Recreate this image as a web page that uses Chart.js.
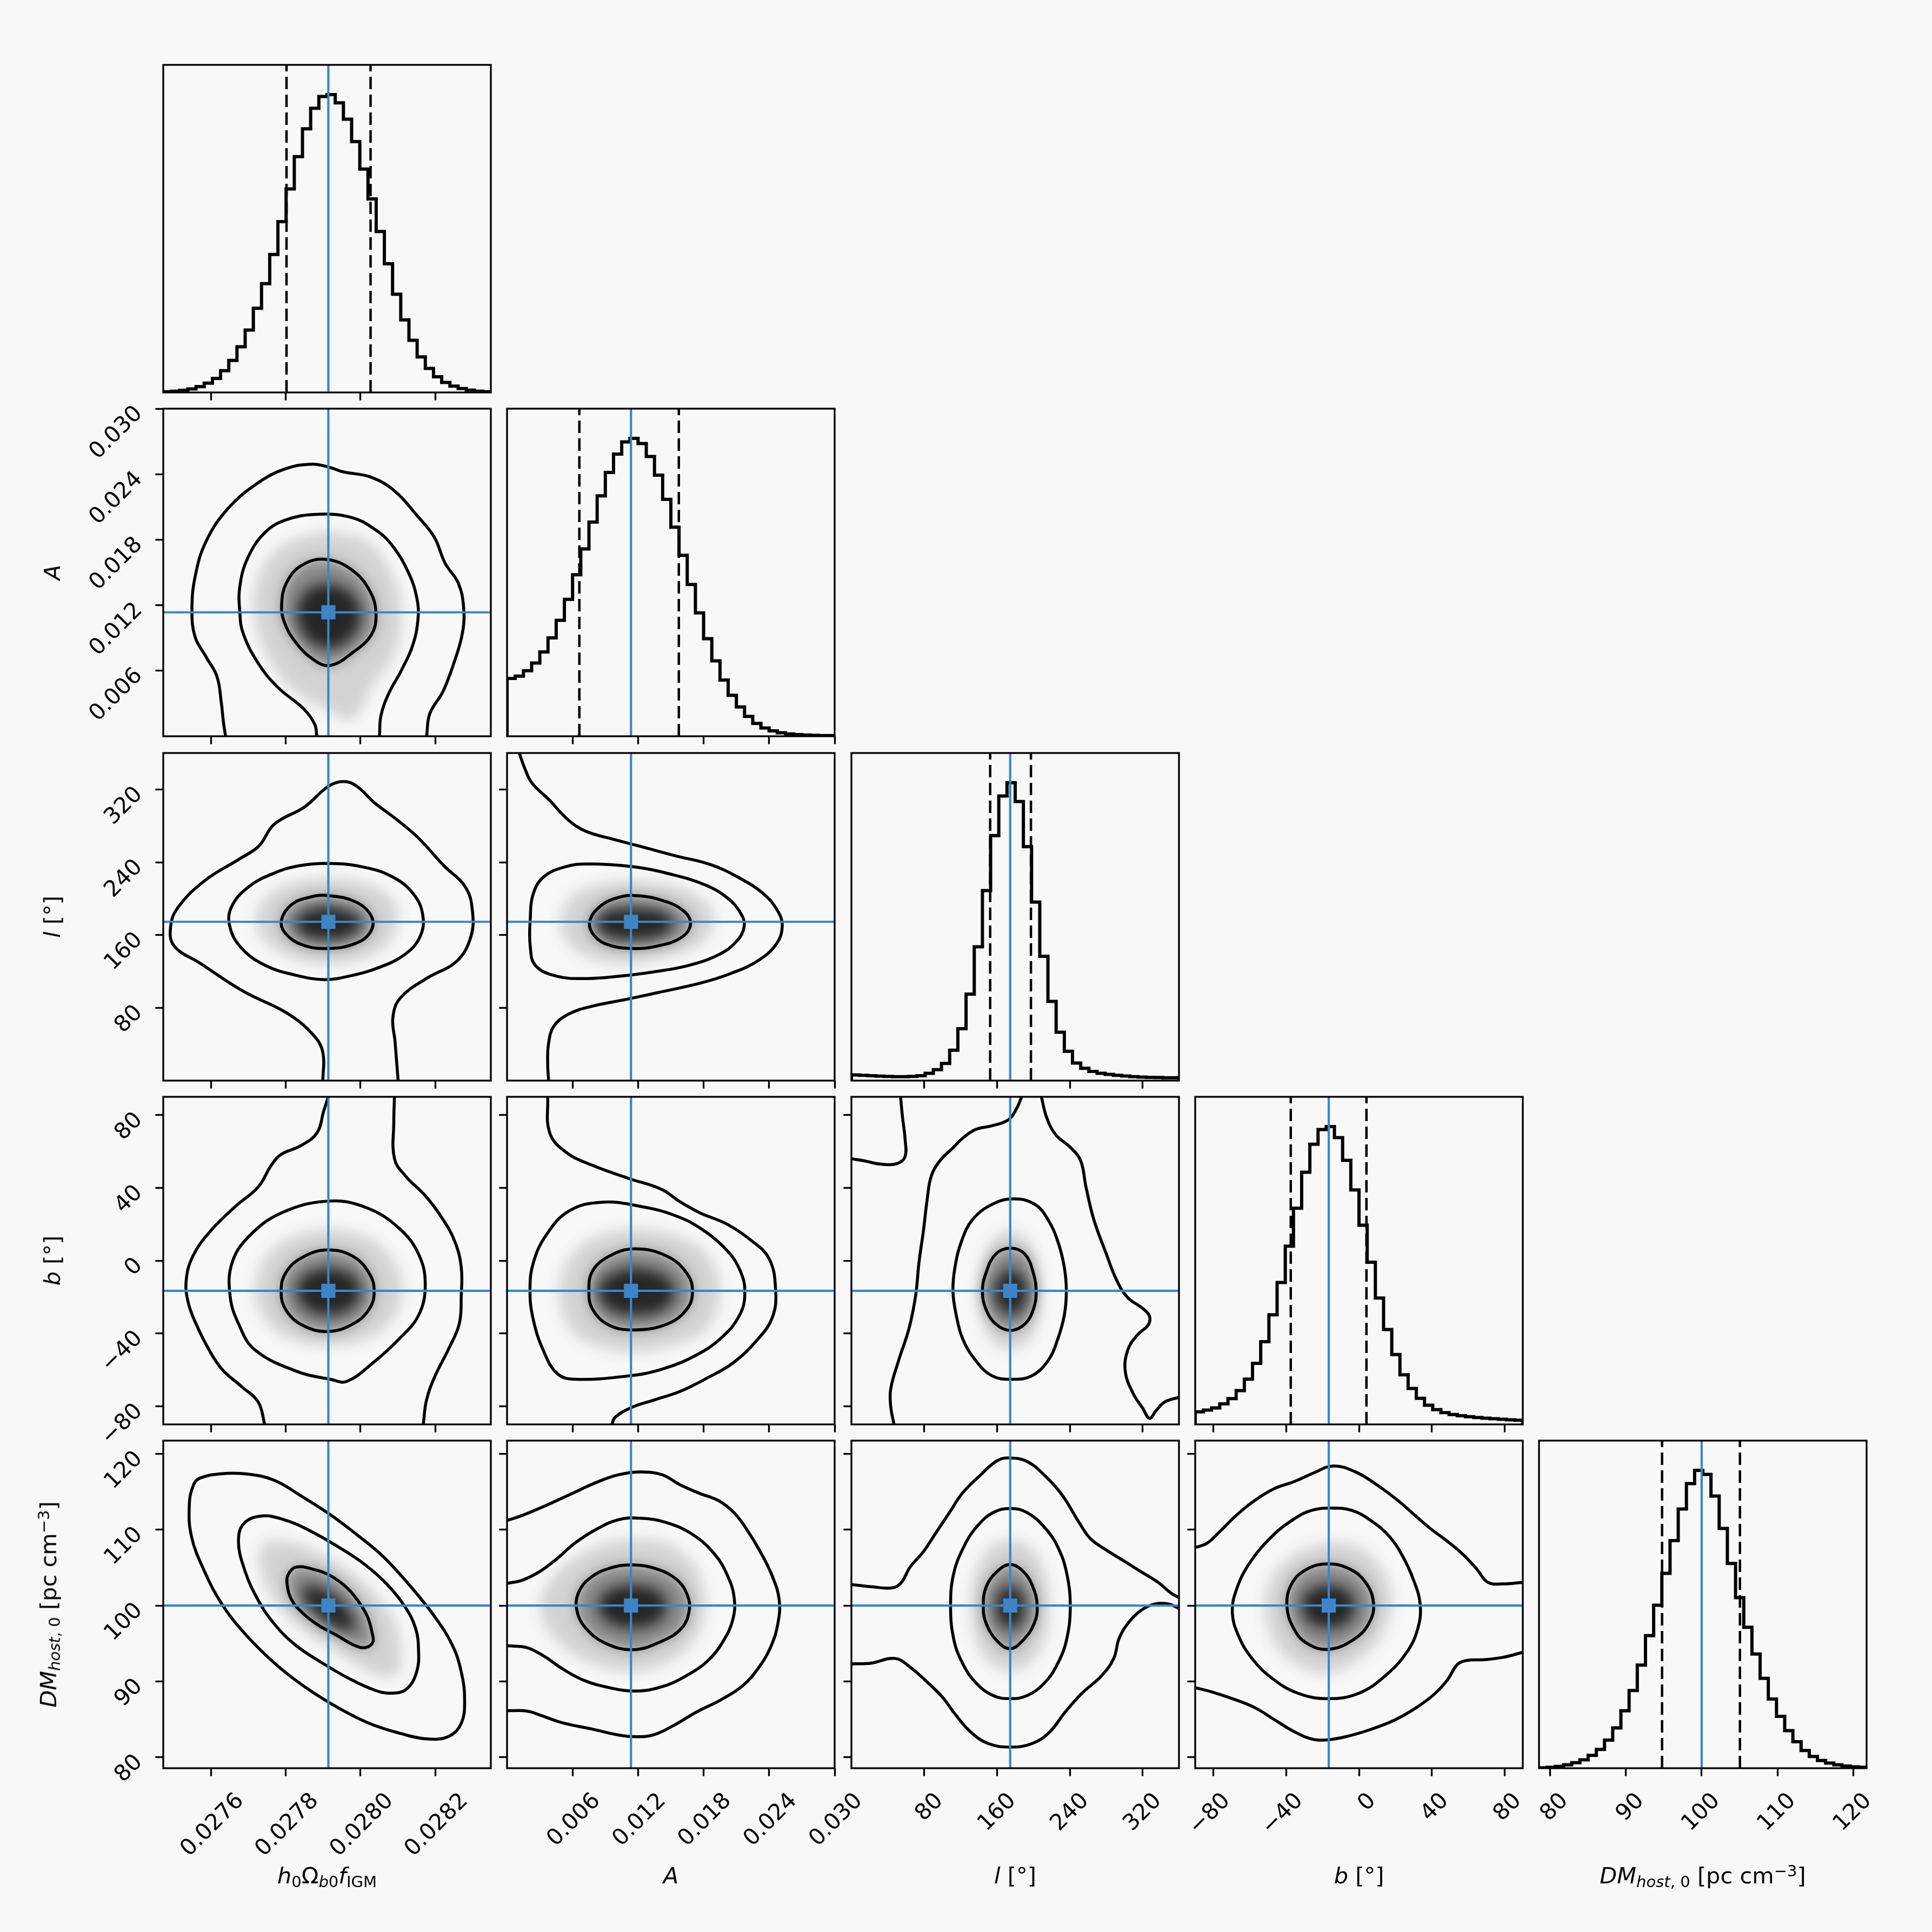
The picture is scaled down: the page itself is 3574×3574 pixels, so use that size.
<!DOCTYPE html>
<html><head><meta charset="utf-8">
<script src="https://cdn.jsdelivr.net/npm/chart.js@4.4.1/dist/chart.umd.min.js"></script>
<style>
html,body{margin:0;padding:0;background:#f8f8f8;}
#fig{position:relative;width:3574px;height:3574px;overflow:hidden;background:#f8f8f8;}
canvas{position:absolute;}
.lbl{position:absolute;left:0;top:0;transform-origin:0 0;font-family:"DejaVu Sans";font-size:41.5px;line-height:1;color:#000;white-space:nowrap;}
.lbl i{font-style:oblique;}
.lbl sub{font-size:70%;vertical-align:baseline;position:relative;top:0.24em;}
.lbl sup{font-size:70%;vertical-align:baseline;position:relative;top:-0.45em;}
</style></head><body><div id="fig"></div>
<script>
// ---------------- data ----------------
const paramNames = ['h0Ωb0fIGM', 'A', 'l', 'b', 'DMhost,0'];
const axisTitles = [
  '<i>h</i><sub>0</sub>Ω<sub><i>b</i>0</sub><i>f</i><sub>IGM</sub>',
  '<i>A</i>',
  '<i>l</i> [°]',
  '<i>b</i> [°]',
  '<i>DM</i><sub><i>host</i>, 0</sub> [pc cm<sup>−3</sup>]'
];
const rangeLo = [0.027472, 0.0, 0.0, -90.0, 78.55];
const rangeHi = [0.028349, 0.03, 360.0, 90.0, 121.75];
const tickVals = [[0.0276, 0.0278, 0.0280, 0.0282], [0.006, 0.012, 0.018, 0.024, 0.030], [80, 160, 240, 320], [-80, -40, 0, 40, 80], [80, 90, 100, 110, 120]];
const tickLabels = [["0.0276", "0.0278", "0.0280", "0.0282"], ["0.006", "0.012", "0.018", "0.024", "0.030"], ["80", "160", "240", "320"], ["−80", "−40", "0", "40", "80"], ["80", "90", "100", "110", "120"]];
const truths = [0.027914, 0.01135, 174.5, -16.6, 100.0];
const q16 = [0.027802, 0.00662, 152.5, -37.5, 94.78];
const q84 = [0.028027, 0.01573, 197.3, 4.1, 105.05];

// 1D histograms (40 bins over the axis range)
const histH = [3,5,9,15,25,40,60,93,137,195,267,360,465,590,730,870,1008,1127,1215,1265,1273,1238,1168,1072,955,827,688,550,420,310,223,152,103,67,43,27,17,10,5,3];
const histA = [247,257,280,313,360,420,495,585,690,800,915,1027,1127,1205,1257,1272,1250,1195,1115,1012,893,773,648,527,417,322,240,175,125,85,55,35,23,15,10,7,5,4,3,3];
const histL = [26,24,22,20,19,18,18,19,22,33,50,78,138,236,393,608,863,1113,1293,1353,1268,1063,811,565,360,220,133,80,56,42,33,28,24,21,18,16,15,14,13,13];
const histB = [57,65,75,93,117,153,205,277,375,497,643,808,980,1143,1270,1337,1350,1300,1197,1063,903,735,573,430,317,225,163,118,87,67,53,45,39,35,31,28,26,23,21,19];
const histDM = [2,4,8,15,25,38,58,85,127,182,260,352,467,600,738,882,1030,1173,1288,1348,1330,1232,1085,927,772,638,517,407,313,235,170,120,80,53,35,23,15,10,6,4];

// 2D panels: density shading outlines and contour lines [x, y]
// A vs h0Ωb0fIGM
const A_h_shade = [[0.0279008,0.018837],[0.0280171,0.017841],[0.0280869,0.014652],[0.0281102,0.011463],[0.0280927,0.007674],[0.0280346,0.004683],[0.0279764,0.001494],[0.0279182,0.002292],[0.0278251,0.004086],[0.0277611,0.006678],[0.0277175,0.010665],[0.0277262,0.014652],[0.0277902,0.017442]];
const A_h_core = [[0.0279124,0.014052],[0.0279764,0.013056],[0.0279997,0.010863],[0.0279647,0.00867],[0.0279124,0.008073],[0.0278542,0.009069],[0.0278309,0.011262],[0.0278542,0.013257]];
const A_h_c1 = [[0.0279066,0.016206],[0.0279764,0.015249],[0.0280258,0.013257],[0.0280415,0.011163],[0.0280287,0.00927],[0.0279793,0.007674],[0.0279182,0.006477],[0.0278717,0.007077],[0.0278251,0.00867],[0.027796,0.010464],[0.027789,0.01206],[0.0278018,0.014052],[0.0278426,0.015648]];
const A_h_c2 = [[0.0278833,0],[0.0278775,0.001095],[0.0278484,0.002493],[0.0277786,0.004485],[0.0277262,0.006678],[0.0276855,0.009468],[0.0276768,0.011463],[0.0276768,0.013653],[0.0276971,0.016245],[0.0277437,0.018639],[0.0278018,0.019833],[0.0278891,0.020331],[0.0279764,0.020034],[0.0280346,0.019038],[0.0280811,0.01764],[0.0281276,0.015051],[0.0281509,0.012657],[0.0281538,0.010665],[0.0281393,0.008271],[0.0281102,0.006081],[0.0280753,0.003888],[0.0280549,0.001893],[0.0280509,0]];
const A_h_c3 = [[0.0276389,0],[0.0276331,0.001296],[0.0276274,0.00309],[0.0276157,0.005481],[0.0275866,0.007275],[0.0275575,0.009069],[0.0275488,0.011463],[0.0275575,0.014652],[0.0275866,0.017841],[0.0276448,0.020832],[0.0277262,0.023223],[0.0278018,0.024519],[0.0278717,0.024918],[0.0279182,0.024618],[0.0279531,0.024219],[0.0280287,0.023721],[0.0280927,0.022425],[0.0281509,0.020232],[0.0281975,0.01824],[0.0282266,0.015846],[0.0282615,0.014052],[0.028276,0.011859],[0.028273,0.009468],[0.0282498,0.006678],[0.0282207,0.004086],[0.0281858,0.002094],[0.028177,0]];
// l vs h0Ωb0fIGM
const l_h_shade = [[0.0279144,223.2],[0.0280134,217.2],[0.0280832,200.5],[0.0281007,176.7],[0.0280774,152.8],[0.0280134,134.9],[0.0279144,127.7],[0.0278155,134.9],[0.0277456,152.8],[0.02772,176.7],[0.0277456,200.5],[0.0278155,217.2]];
const l_h_core = [[0.0279144,191.0],[0.0279785,183.8],[0.0280017,171.9],[0.0279726,160.0],[0.0279144,155.2],[0.0278504,160.0],[0.0278271,171.9],[0.0278504,185.0]];
const l_h_c1 = [[0.0279121,203.4],[0.0279901,195.8],[0.0280309,179.0],[0.028025,162.3],[0.0279843,150.4],[0.0279144,145.2],[0.0278446,149.2],[0.027798,162.3],[0.0277887,176.7],[0.0278155,193.4],[0.027862,201.3]];
const l_h_c2 = [[0.0279144,238.7],[0.0280017,235.2],[0.0280832,224.4],[0.0281414,205.3],[0.028167,181.4],[0.0281589,157.6],[0.0281182,138.5],[0.0280483,124.1],[0.0279668,114.6],[0.0279028,111.0],[0.0278271,115.8],[0.0277456,126.5],[0.0276815,145.6],[0.0276501,169.5],[0.0276548,191.0],[0.0276991,212.5],[0.0277688,228.0],[0.0278387,236.3]];
const l_h_c3 = [[0.0278993,0],[0.0278993,31.0],[0.0278737,50.1],[0.0278038,74.0],[0.0276874,97.9],[0.027571,128.9],[0.0275011,148.0],[0.0274918,169.5],[0.0275128,191.0],[0.0275826,219.6],[0.0276757,243.5],[0.0277282,257.8],[0.0277688,281.7],[0.0278504,300.8],[0.0279144,323.5],[0.0279551,328.7],[0.0279901,323.5],[0.0280367,305.6],[0.0280949,287.6],[0.0281531,267.4],[0.028223,236.3],[0.0282812,212.5],[0.0282998,186.2],[0.0282951,157.6],[0.0282579,131.3],[0.0281764,112.2],[0.0281066,90.7],[0.0280867,69.2],[0.0280925,43.0],[0.0281007,0]];
// l vs A
const l_A_shade = [[0.0116,219.6],[0.0154,213.7],[0.018,198.1],[0.01892,176.7],[0.0182,155.2],[0.0154,138.5],[0.0114,128.9],[0.0078,133.7],[0.0056,150.4],[0.00492,176.7],[0.0058,200.5],[0.0082,214.8]];
const l_A_core = [[0.0114,189.8],[0.0142,185.0],[0.0152,173.1],[0.0142,160.0],[0.0114,155.2],[0.009,160.0],[0.0082,173.1],[0.009,185.0]];
const l_A_c1 = [[0.01152,203.4],[0.0142,198.1],[0.0162,186.2],[0.0168,171.9],[0.016,157.6],[0.0138,148.0],[0.0114,145.2],[0.009,150.4],[0.0078,162.3],[0.0076,176.7],[0.0086,192.2],[0.01,200.5]];
const l_A_c2 = [[0.0074,238.0],[0.0114,235.2],[0.015,226.8],[0.0182,214.8],[0.0202,200.5],[0.0214,183.8],[0.02172,169.5],[0.021,152.8],[0.0194,138.5],[0.0166,126.5],[0.0134,119.4],[0.0102,114.6],[0.0074,112.2],[0.0046,114.6],[0.0026,126.5],[0.00212,148.0],[0.00212,176.7],[0.0024,205.3],[0.0034,224.4],[0.0054,235.2]];
const l_A_c3 = [[0.00112,360],[0.0016,343.8],[0.00228,327.1],[0.0038,309.2],[0.0056,286.5],[0.0072,274.1],[0.0098,265.0],[0.0122,257.4],[0.0154,247.1],[0.0186,237.5],[0.0212,223.2],[0.02348,205.3],[0.0248,186.2],[0.0252,169.5],[0.02468,150.4],[0.02308,132.5],[0.0206,118.2],[0.0178,107.4],[0.0138,96.7],[0.011,89.5],[0.0076,81.2],[0.0056,72.8],[0.00428,59.7],[0.0038,40.6],[0.00372,19.1],[0.0038,0]];
// b vs h0Ωb0fIGM
const b_h_shade = [[0.0279139,17.78],[0.0280156,13.01],[0.0280857,1.08],[0.028112,-16.83],[0.0280857,-32.35],[0.0280156,-43.09],[0.0279139,-46.67],[0.0278139,-43.09],[0.0277438,-32.35],[0.0277175,-16.83],[0.0277438,1.08],[0.0278139,13.01]];
const b_h_core = [[0.0279139,-3.71],[0.0279805,-8.48],[0.027998,-16.83],[0.0279805,-25.18],[0.0279139,-29.95],[0.027849,-25.18],[0.0278314,-16.83],[0.027849,-8.48]];
const b_h_c1 = [[0.0279139,5.85],[0.0279805,2.27],[0.0280243,-7.29],[0.0280366,-16.83],[0.0280243,-26.37],[0.0279805,-34.74],[0.0279139,-38.92],[0.027849,-35.93],[0.0278016,-27.58],[0.0277876,-16.83],[0.0278016,-6.08],[0.027849,2.27]];
const b_h_c2 = [[0.0279139,32.71],[0.0280156,29.12],[0.0281032,17.78],[0.0281558,3.46],[0.0281734,-13.25],[0.0281558,-29.95],[0.0281032,-43.09],[0.0280331,-56.21],[0.027963,-66.37],[0.0279191,-65.18],[0.0278314,-61.0],[0.0277175,-49.05],[0.0276736,-34.74],[0.0276508,-19.22],[0.0276561,-1.31],[0.0276999,13.01],[0.0277876,26.14]];
const b_h_c3a = [[0.0279139,90],[0.0279016,82.24],[0.027884,70.31],[0.0278402,63.14],[0.0277876,58.37],[0.0277613,52.4],[0.0277262,40.46],[0.0276649,29.72],[0.0275947,15.39],[0.0275509,2.27],[0.0275334,-10.85],[0.0275386,-22.81],[0.0275597,-34.74],[0.0275947,-49.05],[0.0276298,-59.8],[0.0276824,-69.35],[0.0277262,-77.71],[0.0277438,-90]];
const b_h_c3b = [[0.028091,90],[0.0280892,76.27],[0.028091,55.98],[0.0281208,46.44],[0.0281734,35.69],[0.0282172,23.76],[0.0282523,10.62],[0.0282698,-3.71],[0.0282698,-19.22],[0.0282645,-34.74],[0.0282347,-49.05],[0.0281997,-63.38],[0.0281769,-76.52],[0.0281681,-90]];
// b vs A
const b_A_shade = [[0.01158,17.78],[0.0153,14.2],[0.0183,3.46],[0.0195,-16.83],[0.0183,-37.12],[0.0153,-46.67],[0.01158,-50.26],[0.0081,-46.67],[0.0057,-37.12],[0.0048,-16.83],[0.0057,1.08],[0.0081,13.01]];
const b_A_core = [[0.0117,-3.71],[0.0144,-8.48],[0.0153,-16.83],[0.0144,-26.37],[0.0117,-29.95],[0.0093,-26.37],[0.0084,-16.83],[0.0093,-8.48]];
const b_A_c1 = [[0.0117,6.44],[0.0147,2.27],[0.0165,-7.29],[0.01698,-16.83],[0.0165,-26.37],[0.0147,-34.74],[0.0117,-38.07],[0.0093,-35.33],[0.0078,-26.37],[0.0075,-16.83],[0.0078,-6.08],[0.0093,2.27]];
const b_A_c2 = [[0.0087,32.11],[0.0123,29.72],[0.0153,24.95],[0.0177,17.78],[0.0201,5.85],[0.0213,-4.9],[0.02178,-16.83],[0.0213,-29.95],[0.0195,-43.09],[0.0171,-52.63],[0.0141,-59.8],[0.0111,-63.38],[0.0063,-65.18],[0.00462,-62.19],[0.0033,-49.05],[0.0024,-32.35],[0.0021,-16.83],[0.0024,-1.31],[0.0036,14.2],[0.0057,27.33]];
const b_A_c3 = [[0.00372,90],[0.0039,70.31],[0.0054,59.56],[0.0078,52.4],[0.0111,45.23],[0.0141,39.28],[0.0159,32.11],[0.0177,26.14],[0.0201,20.18],[0.0222,11.81],[0.024,1.08],[0.0246,-16.83],[0.0243,-31.16],[0.02298,-43.09],[0.0207,-56.21],[0.0183,-64.58],[0.0159,-71.73],[0.0135,-76.52],[0.0114,-80.69],[0.0099,-86.06],[0.0096,-90]];
// b vs l
const b_l_shade = [[175.0,17.78],[194.4,10.62],[205.2,-1.31],[207.4,-16.83],[205.2,-32.35],[194.4,-44.28],[175.0,-49.05],[154.8,-44.28],[144.0,-32.35],[140.4,-16.83],[144.0,-1.31],[154.8,10.62]];
const b_l_core = [[175.0,-3.71],[188.6,-9.67],[193.0,-16.83],[188.6,-25.18],[175.0,-29.95],[162.0,-25.18],[157.0,-16.83],[162.0,-9.67]];
const b_l_c1 = [[175.0,6.8],[190.8,3.46],[200.2,-7.29],[203.0,-16.83],[200.2,-26.37],[190.8,-34.74],[175.0,-38.32],[158.4,-34.74],[147.6,-26.37],[144.0,-16.83],[147.6,-7.29],[158.4,3.46]];
const b_l_c2 = [[178.6,33.9],[201.6,30.92],[216.0,22.55],[226.8,10.62],[234.0,-3.71],[236.2,-16.83],[234.0,-29.95],[226.8,-43.09],[216.0,-55.03],[198.0,-63.38],[176.4,-65.18],[154.8,-63.38],[136.8,-55.03],[122.4,-43.09],[115.2,-29.95],[111.6,-16.83],[113.8,-3.71],[121.0,10.62],[133.2,22.55],[154.8,30.92]];
const b_l_c3a = [[0,55.98],[14.4,54.79],[32.4,53.0],[50.4,53.35],[59.0,57.17],[59.0,66.73],[56.2,78.66],[54.0,90]];
const b_l_c3b = [[187.2,90],[181.4,83.43],[172.8,77.47],[154.8,74.12],[136.8,72.09],[123.8,67.91],[111.6,61.94],[97.2,54.79],[87.8,46.44],[83.5,34.49],[79.2,16.6],[74.2,-1.31],[70.6,-19.22],[63.4,-37.12],[51.8,-55.03],[43.2,-70.54],[43.2,-80.1],[46.8,-90]];
const b_l_c3c = [[208.8,90],[214.6,78.66],[224.6,69.12],[241.2,61.94],[252.0,54.79],[257.8,40.46],[266.4,22.55],[279.4,4.66],[291.6,-10.85],[303.8,-20.41],[320.4,-26.39],[327.6,-30.56],[326.2,-35.33],[314.6,-40.7],[303.8,-49.05],[301.0,-61.0],[309.6,-72.94],[320.4,-81.29],[327.6,-86.66],[334.8,-82.48],[344.2,-77.71],[360,-75.08]];
// DM vs h0Ωb0fIGM
const DM_h_shade = [[0.0277456,108.65],[0.0278155,108.36],[0.0278969,106.79],[0.0279785,104.21],[0.0280483,101.05],[0.0280949,97.61],[0.0281066,94.17],[0.0281007,91.02],[0.0280483,90.73],[0.0279785,92.45],[0.0279086,94.75],[0.0278387,97.04],[0.0277805,99.91],[0.0277397,103.35],[0.0277282,106.5]];
const DM_h_core = [[0.0278562,102.77],[0.0279203,101.63],[0.0279668,99.33],[0.0279843,97.04],[0.0279551,96.75],[0.0279086,97.9],[0.0278678,99.62],[0.0278446,101.34]];
const DM_h_c1 = [[0.0278271,105.07],[0.0278737,104.78],[0.0279203,103.92],[0.0279668,102.2],[0.0279994,100.19],[0.0280192,98.47],[0.0280309,96.46],[0.0280332,95.18],[0.0280134,94.46],[0.0279843,94.75],[0.0279377,96.04],[0.0278853,97.47],[0.0278446,99.05],[0.0278155,100.77],[0.0278038,102.77],[0.0278061,104.06]];
const DM_h_c2 = [[0.027734,111.8],[0.0277922,111.37],[0.027862,109.94],[0.0279435,107.65],[0.0280134,105.35],[0.0280716,102.77],[0.0281182,99.91],[0.0281473,97.04],[0.0281554,94.17],[0.0281507,91.31],[0.028124,89.01],[0.0280832,88.44],[0.0280367,88.87],[0.0279668,90.45],[0.0278969,92.45],[0.0278271,94.75],[0.0277688,97.61],[0.0277223,101.05],[0.0276874,105.07],[0.0276734,108.5],[0.0276874,110.8]];
const DM_h_c3 = [[0.027571,116.82],[0.0276292,117.39],[0.0276991,117.33],[0.0277688,116.53],[0.0278387,114.53],[0.0279203,111.95],[0.0279901,109.36],[0.02806,106.5],[0.0281298,102.77],[0.0281997,98.47],[0.0282462,94.75],[0.0282695,91.31],[0.0282788,87.58],[0.0282695,84.43],[0.0282346,82.71],[0.0281764,82.42],[0.0281066,83.14],[0.028025,84.43],[0.0279435,86.43],[0.0278504,89.3],[0.0277688,92.45],[0.0276874,96.46],[0.0276292,100.19],[0.0275826,104.49],[0.0275477,109.08],[0.0275419,113.38],[0.0275535,115.96]];
// DM vs A
const DM_A_shade = [[0.01152,108.79],[0.0146,108.22],[0.017,105.64],[0.018,102.2],[0.018,98.18],[0.0166,94.46],[0.0138,91.88],[0.01152,91.31],[0.0086,91.88],[0.0058,93.89],[0.0036,97.04],[0.003,99.91],[0.0038,103.06],[0.0062,106.22],[0.009,108.22]];
const DM_A_core = [[0.01152,102.77],[0.0138,101.91],[0.0146,99.91],[0.0138,97.9],[0.01152,97.04],[0.0092,97.9],[0.0084,99.91],[0.0092,101.91]];
const DM_A_c1 = [[0.01152,105.35],[0.0138,104.78],[0.0156,103.35],[0.01652,101.34],[0.01668,99.33],[0.016,97.04],[0.0142,95.32],[0.01152,94.18],[0.009,95.04],[0.0072,97.04],[0.0064,99.33],[0.00652,101.63],[0.0076,103.63],[0.0094,104.92]];
const DM_A_c2 = [[0,102.92],[0.0014,103.35],[0.003,104.49],[0.0046,106.21],[0.0062,108.22],[0.0082,110.08],[0.0102,111.32],[0.0122,111.52],[0.0146,110.94],[0.017,109.36],[0.019,106.79],[0.0202,103.92],[0.0208,101.05],[0.02068,98.18],[0.0198,95.32],[0.0184,92.74],[0.0164,90.73],[0.0142,89.3],[0.0118,88.73],[0.0094,89.16],[0.007,90.16],[0.005,91.73],[0.0034,93.31],[0.0018,94.46],[0,94.69]];
const DM_A_c3 = [[0,111.23],[0.0014,111.89],[0.0034,113.09],[0.0058,114.67],[0.0082,116.25],[0.0102,117.25],[0.0122,117.62],[0.0142,117.25],[0.0158,115.96],[0.0176,114.81],[0.0194,113.81],[0.0208,112.23],[0.022,109.94],[0.0232,107.07],[0.02428,103.92],[0.02492,100.77],[0.0248,97.61],[0.02412,94.46],[0.023,91.73],[0.0216,89.45],[0.0196,87.58],[0.0174,86.0],[0.0152,84.14],[0.0134,82.94],[0.0118,82.71],[0.0102,82.94],[0.0078,83.71],[0.005,84.57],[0.003,85.57],[0.0018,86.09],[0.0002,86.14],[0,86.12]];
// DM vs l
const DM_l_shade = [[174.5,108.79],[193.6,107.93],[210.3,105.07],[217.5,99.91],[210.3,94.75],[193.6,92.17],[174.5,91.31],[155.4,92.17],[138.6,94.75],[131.5,99.91],[138.6,105.07],[155.4,107.93]];
const DM_l_core = [[174.5,102.77],[186.5,101.63],[189.8,99.91],[186.5,97.9],[174.5,97.04],[162.5,97.9],[159.2,99.91],[162.5,101.63]];
const DM_l_c1 = [[174.5,105.41],[188.9,104.49],[199.4,102.49],[204.2,99.91],[200.8,97.61],[188.9,95.46],[174.5,94.32],[160.2,95.32],[148.2,97.61],[144.9,99.91],[148.2,102.49],[160.2,104.49]];
const DM_l_c2 = [[174.5,112.81],[193.6,112.23],[212.8,110.23],[227.1,107.65],[236.7,104.21],[240.5,99.91],[236.7,95.61],[227.1,92.45],[212.8,89.87],[193.6,88.15],[174.5,87.72],[155.4,88.15],[136.3,89.87],[121.9,92.45],[112.4,95.61],[109.0,99.91],[112.4,104.21],[124.3,107.93],[138.6,110.51],[155.4,112.23]];
const DM_l_c3a = [[0,102.77],[21.5,102.49],[45.4,102.34],[55.0,103.06],[64.5,105.07],[78.9,107.07],[93.2,109.65],[107.6,112.23],[121.9,114.81],[141.0,117.11],[160.2,119.11],[174.5,119.46],[193.6,118.97],[212.8,117.11],[231.9,114.53],[251.0,110.8],[262.9,108.79],[279.7,107.36],[298.8,105.93],[317.9,104.49],[337.1,103.06],[351.4,101.63],[360,101.05]];
const DM_l_c3b = [[0,92.31],[21.5,92.4],[47.8,93.03],[64.5,91.88],[83.7,89.87],[100.4,87.87],[114.7,85.57],[131.5,83.28],[150.6,81.79],[174.5,81.33],[198.4,81.79],[217.5,83.28],[234.3,85.86],[253.4,88.44],[274.9,90.73],[288.3,93.03],[294.0,95.61],[303.6,97.61],[317.9,99.33],[333.2,100.19],[349.0,100.19],[360,99.62]];
// DM vs b
const DM_b_shade = [[-16.8,108.5],[0,107.65],[12.0,105.07],[18.0,101.05],[14.4,97.04],[2.4,93.31],[-16.8,91.02],[-33.6,92.17],[-45.6,94.75],[-51.6,99.05],[-49.2,103.06],[-37.2,106.5]];
const DM_b_core = [[-16.8,102.77],[-6.0,101.91],[-2.4,99.91],[-6.0,97.9],[-16.8,97.04],[-27.6,97.9],[-31.2,99.91],[-27.6,101.91]];
const DM_b_c1 = [[-16.8,105.5],[-4.8,104.78],[3.6,103.06],[7.9,100.48],[6.0,97.9],[-2.4,95.61],[-16.8,94.23],[-28.8,95.04],[-36.0,97.04],[-39.6,99.91],[-37.2,102.77],[-28.8,104.78]];
const DM_b_c2 = [[-15.6,112.86],[-3.6,112.52],[7.2,111.09],[16.8,109.08],[24.0,106.5],[30.0,103.35],[33.6,100.19],[32.4,97.04],[26.4,93.89],[14.4,90.73],[0,88.44],[-16.8,87.72],[-33.6,88.44],[-48.0,90.45],[-58.8,93.03],[-66.0,95.9],[-69.6,99.05],[-67.2,102.2],[-60.0,105.64],[-48.0,109.08],[-36.0,111.37],[-26.4,112.52]];
const DM_b_c3a = [[-90,107.65],[-83.5,108.22],[-76.3,109.8],[-67.2,111.95],[-57.6,113.81],[-46.8,115.39],[-36.0,116.31],[-25.2,117.45],[-14.4,118.4],[-2.4,117.68],[9.6,115.96],[21.6,113.81],[31.2,111.8],[39.6,110.08],[49.2,108.36],[57.6,106.64],[64.8,104.78],[70.8,103.06],[79.2,102.86],[90,103.06]];
const DM_b_c3b = [[-90,89.16],[-81.6,88.67],[-69.6,87.72],[-57.6,86.58],[-46.8,85.0],[-36.0,83.42],[-26.4,82.42],[-18.0,82.28],[-7.2,82.71],[6.0,83.63],[19.2,84.86],[31.2,86.49],[41.3,88.3],[48.5,90.16],[54.0,92.22],[58.8,92.74],[69.6,92.88],[79.2,93.17],[90,93.83]];

// ---------------- layout / style ----------------
const PANEL = 606;
const colLeft = [302, 938, 1575, 2211, 2847];
const rowTop = [120, 756, 1393, 2029, 2665];
const ML = 240, MR = 80, MT = 60, MB = 240;
const FS = 41.5;
const FONT = 'DejaVu Sans';
const BLUE = '#3d85c6';
const TL = 14.6, TW = 3.3, FRAME_W = 3.3;
const XPAD = 22, YPAD = 30;
const LW_HIST = 6, LW_CONT = 5.5, LW_TRUTH = 4.2, LW_Q = 4.5;
const BLUR = 12;
const SHADE_COLORS = ['#d3d3d3', '#888888', '#262626'];

Chart.defaults.font.family = FONT;
Chart.defaults.elements.point.radius = 0;

const fig = document.getElementById('fig');
const mctx = document.createElement('canvas').getContext('2d');
mctx.font = FS + 'px "' + FONT + '"';
const tw = s => mctx.measureText(s).width;
const P = a => a.map(p => ({x: p[0], y: p[1]}));
// horizontal shift that centres each axis' rotated labels under their ticks
const xLabelShift = tickLabels.map(labs => 0.354 * labs.reduce((s, t) => s + tw(t), 0) / labs.length + 3);

const panelPlugin = {
  id: 'panelFrame',
  beforeDatasetsDraw(chart) { chart.ctx.filter = 'blur(' + BLUR + 'px)'; },
  beforeDatasetDraw(chart, args) {
    if (!chart.data.datasets[args.index].shade) chart.ctx.filter = 'none';
  },
  afterDatasetsDraw(chart) {
    const ctx = chart.ctx, a = chart.chartArea;
    ctx.filter = 'none';
    ctx.save();
    ctx.lineWidth = FRAME_W; ctx.strokeStyle = '#000';
    ctx.strokeRect(a.left, a.top, a.right - a.left, a.bottom - a.top);
    ctx.restore();
  }
};

function xScale(c, showLabels) {
  return {
    type: 'linear', min: rangeLo[c], max: rangeHi[c],
    afterBuildTicks: s => { s.ticks = tickVals[c].map(v => ({value: v})); },
    afterFit: s => { s.height = MB; },
    grid: {display: true, drawOnChartArea: false, drawTicks: true, tickLength: TL, tickWidth: TW, tickColor: '#000'},
    border: {display: false},
    ticks: {display: showLabels, autoSkip: false, minRotation: 45, maxRotation: 45, padding: XPAD, color: '#000',
      font: {family: FONT, size: FS},
      callback: (v, i) => tickLabels[c][i],
      labelOffset: xLabelShift[c]}
  };
}
function yScale(r, min, max, withTicks, showLabels) {
  return {
    type: 'linear', min: min, max: max,
    afterBuildTicks: s => { s.ticks = withTicks ? tickVals[r].map(v => ({value: v})) : []; },
    afterFit: s => { s.width = ML; },
    grid: {display: withTicks, drawOnChartArea: false, drawTicks: true, tickLength: TL, tickWidth: TW, tickColor: '#000'},
    border: {display: false},
    ticks: {display: showLabels, autoSkip: false, minRotation: 45, maxRotation: 45, padding: YPAD, color: '#000',
      font: {family: FONT, size: FS},
      labelOffset: 3,
      callback: (v, i) => tickLabels[r][i]}
  };
}

function makeChart(r, c, datasets, yOpts) {
  const cv = document.createElement('canvas');
  const W = ML + PANEL + MR, H = MT + PANEL + MB;
  cv.width = W; cv.height = H;
  cv.style.left = (colLeft[c] - ML) + 'px';
  cv.style.top = (rowTop[r] - MT) + 'px';
  cv.style.width = W + 'px'; cv.style.height = H + 'px';
  fig.appendChild(cv);
  new Chart(cv, {
    type: 'line',
    data: {datasets: datasets},
    options: {
      responsive: false, animation: false, devicePixelRatio: 1, events: [],
      layout: {padding: {left: 0, top: MT, right: MR, bottom: 0}},
      elements: {line: {capBezierPoints: false}},
      plugins: {legend: {display: false}, tooltip: {enabled: false}},
      scales: {x: xScale(c, r === 4), y: yOpts}
    },
    plugins: [panelPlugin]
  });
}

function vline(x, y0, y1, color, width, dash, order) {
  return {data: [{x: x, y: y0}, {x: x, y: y1}], borderColor: color, borderWidth: width, borderDash: dash || [], pointRadius: 0, fill: false, tension: 0, order: order};
}
function hline(y, x0, x1, color, width, order) {
  return {data: [{x: x0, y: y}, {x: x1, y: y}], borderColor: color, borderWidth: width, pointRadius: 0, fill: false, tension: 0, order: order};
}

// ---------- diagonal: 1D histograms ----------
const hists = [histH, histA, histL, histB, histDM];
hists.forEach((h, k) => {
  const lo = rangeLo[k], hi = rangeHi[k], n = h.length, w = (hi - lo) / n;
  const pts = [{x: lo, y: 0}];
  for (let i = 0; i < n; i++) pts.push({x: lo + i * w, y: h[i]});
  pts.push({x: hi, y: h[n - 1]});
  pts.push({x: hi, y: 0});
  const ymax = 1.1 * Math.max(...h);
  const ds = [
    {data: pts, stepped: true, borderColor: '#000', borderWidth: LW_HIST, pointRadius: 0, fill: false, order: 5},
    vline(q16[k], 0, ymax, '#000', LW_Q, [23, 10], 4),
    vline(q84[k], 0, ymax, '#000', LW_Q, [23, 10], 4),
    vline(truths[k], 0, ymax, BLUE, LW_TRUTH, null, 2)
  ];
  makeChart(k, k, ds, yScale(k, 0, ymax, false, false));
});

// ---------- lower triangle: 2D panels ----------
const panels = [
  {r: 1, c: 0, shade: A_h_shade, core: A_h_core, c1: A_h_c1, closed: [], open: [A_h_c2, A_h_c3]},
  {r: 2, c: 0, shade: l_h_shade, core: l_h_core, c1: l_h_c1, closed: [l_h_c2], open: [l_h_c3]},
  {r: 2, c: 1, shade: l_A_shade, core: l_A_core, c1: l_A_c1, closed: [l_A_c2], open: [l_A_c3]},
  {r: 3, c: 0, shade: b_h_shade, core: b_h_core, c1: b_h_c1, closed: [b_h_c2], open: [b_h_c3a, b_h_c3b]},
  {r: 3, c: 1, shade: b_A_shade, core: b_A_core, c1: b_A_c1, closed: [b_A_c2], open: [b_A_c3]},
  {r: 3, c: 2, shade: b_l_shade, core: b_l_core, c1: b_l_c1, closed: [b_l_c2], open: [b_l_c3a, b_l_c3b, b_l_c3c]},
  {r: 4, c: 0, shade: DM_h_shade, core: DM_h_core, c1: DM_h_c1, closed: [DM_h_c2, DM_h_c3], open: []},
  {r: 4, c: 1, shade: DM_A_shade, core: DM_A_core, c1: DM_A_c1, closed: [], open: [DM_A_c2, DM_A_c3]},
  {r: 4, c: 2, shade: DM_l_shade, core: DM_l_core, c1: DM_l_c1, closed: [DM_l_c2], open: [DM_l_c3a, DM_l_c3b]},
  {r: 4, c: 3, shade: DM_b_shade, core: DM_b_core, c1: DM_b_c1, closed: [DM_b_c2], open: [DM_b_c3a, DM_b_c3b]}
];

function fillDs(pts, color, order) {
  return {shade: true, data: P(pts.concat([pts[0]])), fill: 'shape', backgroundColor: color,
    borderColor: 'rgba(0,0,0,0)', borderWidth: 0, pointRadius: 0, tension: 0.4, order: order};
}
function closedDs(pts, order) {
  const n = pts.length;
  return {data: P(pts.concat([pts[0], pts[1], pts[2]])), borderColor: '#000', borderWidth: LW_CONT,
    pointRadius: 0, tension: 0.4, fill: false, order: order,
    segment: {borderColor: s => (s.p0DataIndex === 0 || s.p0DataIndex === n + 1) ? 'rgba(0,0,0,0)' : undefined}};
}
function openDs(pts, order) {
  return {data: P(pts), borderColor: '#000', borderWidth: LW_CONT, pointRadius: 0, tension: 0.4, fill: false, order: order};
}

panels.forEach(p => {
  const r = p.r, c = p.c;
  const ds = [
    fillDs(p.shade, SHADE_COLORS[0], 30),
    fillDs(p.c1, SHADE_COLORS[1], 29),
    fillDs(p.core, SHADE_COLORS[2], 28),
    closedDs(p.c1, 10)
  ];
  p.closed.forEach(a => ds.push(closedDs(a, 10)));
  p.open.forEach(a => ds.push(openDs(a, 10)));
  ds.push(vline(truths[c], rangeLo[r], rangeHi[r], BLUE, LW_TRUTH, null, 3));
  ds.push(hline(truths[r], rangeLo[c], rangeHi[c], BLUE, LW_TRUTH, 3));
  ds.push({data: [{x: truths[c], y: truths[r]}], showLine: false, pointStyle: 'rect', pointRadius: 18.5,
    pointBackgroundColor: BLUE, pointBorderWidth: 0, order: 1});
  makeChart(r, c, ds, yScale(r, rangeLo[r], rangeHi[r], true, c === 0));
});

// ---------- axis titles ----------
const B_OFF = 35.1;
for (let c = 0; c < 5; c++) {
  const d = document.createElement('div');
  d.className = 'lbl';
  d.innerHTML = axisTitles[c];
  const xc = colLeft[c] + PANEL / 2;
  d.style.transform = 'translate(' + xc + 'px,3484px) translate(-50%,' + (-B_OFF) + 'px)';
  fig.appendChild(d);
}
for (let r = 1; r < 5; r++) {
  const d = document.createElement('div');
  d.className = 'lbl';
  d.innerHTML = axisTitles[r];
  const yc = rowTop[r] + PANEL / 2;
  const xb = r === 4 ? 104 : 111;
  d.style.transform = 'translate(' + xb + 'px,' + yc + 'px) rotate(-90deg) translate(-50%,' + (-B_OFF) + 'px)';
  fig.appendChild(d);
}
</script></body></html>
